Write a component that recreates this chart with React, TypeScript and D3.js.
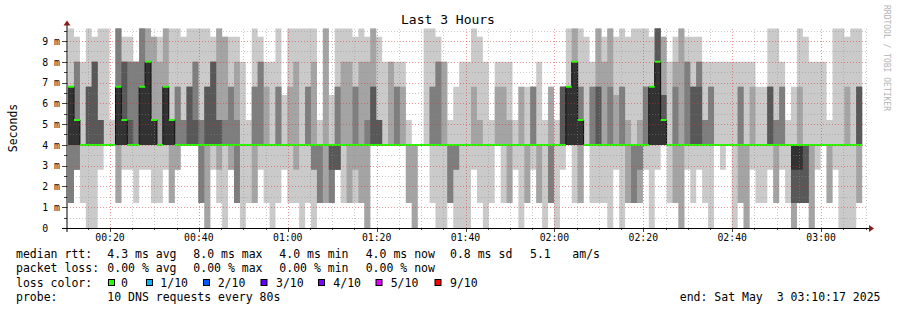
import React from 'react';
import * as d3 from 'd3';

// ---- time frame ----
const END = Date.UTC(2025, 4, 3, 3, 10, 17);
const START = END - 3 * 3600 * 1000;
const STEP = 80 * 1000;
const FIRST_END = START + 17000 + STEP; // end of first 80s probe slot

// ---- sorted ping times (ms) of every 80s probe, 10 pings each ----
const pings: number[][] = [
  [1.2,1.2,1.2,4,4,6.8,6.8,6.8,6.8,9.6],
  [2.8,2.8,2.8,4,4,5.2,5.2,8,8,9.2],
  [1.2,4,4,4,4,4,4,4,4,8],
  [0,4,4,4,4,4,6.8,6.8,6.8,9.6],
  [0,4,4,4,4,4,8,8,8,9.2],
  [2.8,4,4,4,4,4,5.2,5.2,5.2,9.6],
  [4,4,4,4,4,4,4,4,4,9.6],
  [4,4,4,4,4,4,4,4,4,5.2],
  [1.2,1.2,4,4,4,6.8,6.8,9.6,9.6,9.6],
  [2.8,4,4,4,4,5.2,8,8,8,9.2],
  [2.8,4,4,4,4,4,5.2,8,8,9.2],
  [1.2,4,4,4,4,4,4,8,8,8],
  [2.8,4,4,4,4,6.8,6.8,9.6,9.6,9.6],
  [2.8,4,4,4,4,8,8,8,9.6,9.6],
  [1.2,4,4,4,4,5.2,5.2,5.2,9.2,9.2],
  [1.2,4,4,4,4,4,4,4,8,9.2],
  [2.8,4,4,4,4,6.8,6.8,6.8,9.6,9.6],
  [1.2,1.2,4,4,4,5.2,5.2,5.2,5.2,9.6],
  [2.8,2.8,4,4,4,4,4,6.8,6.8,9.6],
  [4,4,4,4,4,4,4,5.2,5.2,9.2],
  [4,4,4,4,4,4,6.8,6.8,6.8,9.6],
  [4,4,4,4,4,4,5.2,8,8,9.6],
  [1.2,1.2,1.2,4,4,4,4,5.2,5.2,9.6],
  [0,0,4,4,4,4,6.8,6.8,6.8,9.6],
  [2.8,4,4,4,4,4,8,8,8,9.2],
  [1.2,2.8,4,4,4,4,5.2,5.2,9.6,9.6],
  [0,4,4,4,4,4,4,5.2,9.2,9.2],
  [2.8,2.8,4,4,4,4,4,6.8,6.8,9.2],
  [1.2,1.2,1.2,4,4,4,4,5.2,8,9.2],
  [0,4,4,4,4,4,4,4,4,8],
  [1.2,4,4,4,4,4,4,4,4,5.2],
  [1.2,1.2,4,4,4,4,4,6.8,6.8,9.6],
  [2.8,4,4,4,4,4,4,8,8,9.2],
  [1.2,4,4,4,4,4,4,4,6.8,8],
  [0,4,4,4,4,4,4,4,4,8],
  [1.2,4,4,4,4,4,4,6.8,6.8,9.6],
  [2.8,4,4,4,4,4,4,4,4,6.4],
  [1.2,4,4,4,4,4,4,4,6.8,9.6],
  [1.2,2.8,4,4,4,4,4,4,8,9.6],
  [0,4,4,4,4,4,4,4,4,9.6],
  [1.2,4,4,4,4,4,4,6.8,6.8,9.6],
  [0,2.8,2.8,4,4,4,4,4,8,9.6],
  [1.2,1.2,1.2,4,4,4,4,4,4,5.2],
  [1.2,1.2,4,4,4,4,4,4,9.6,9.6],
  [1.2,1.2,1.2,2.8,4,4,4,4,4,6.4],
  [2.8,2.8,2.8,2.8,4,4,4,6.8,6.8,9.6],
  [1.2,4,4,4,4,4,4,4,8,9.6],
  [1.2,1.2,4,4,4,4,4,4,8,9.6],
  [1.2,2.8,4,4,4,4,4,6.8,6.8,9.2],
  [1.2,1.2,4,4,4,4,4,4,8,9.6],
  [0,0,4,4,4,4,4,5.2,8,9.2],
  [4,4,4,4,4,4,6.8,6.8,9.6,9.6],
  [4,4,4,4,4,4,5.2,5.2,5.2,9.2],
  [4,4,4,4,4,4,4,4,4,8],
  [4,4,4,4,4,4,4,4,8,8],
  [4,4,4,4,4,4,4,6.8,6.8,8],
  [4,4,4,4,4,4,4,4,6.8,8],
  [1.2,1.2,4,4,4,4,4,4,4,5.2],
  [0,0,4,4,4,4,4,4,4,4],
  [4,4,4,4,4,4,4,4,4,4],
  [4,4,4,4,4,4,4,4,4,9.6],
  [1.2,4,4,4,4,4,4,6.8,6.8,9.6],
  [0,4,4,4,4,4,4,8,8,9.2],
  [0,4,4,4,4,4,4,4,8,8],
  [1.2,1.2,1.2,4,4,4,4,4,4,5.2],
  [0,2.8,2.8,4,4,4,4,4,4,6.8],
  [0,4,4,4,4,4,4,4,4,8],
  [0,4,4,4,4,4,4,4,4,8],
  [2.8,4,4,4,4,4,4,4,6.8,9.6],
  [1.2,4,4,4,4,4,4,4,5.2,9.2],
  [0,4,4,4,4,4,4,4,4,8],
  [1.2,4,4,4,4,4,4,4,4,5.2],
  [4,4,4,4,4,4,4,4,6.8,8],
  [1.2,4,4,4,4,4,4,4,6.8,8],
  [1.2,1.2,4,4,4,4,4,4,5.2,8],
  [2.8,4,4,4,4,4,4,4,4,5.2],
  [0,4,4,4,4,4,4,4,6.8,6.8],
  [1.2,1.2,4,4,4,4,4,4,4,6.8],
  [2.8,4,4,4,4,4,4,6.8,6.8,6.8],
  [1.2,1.2,4,4,4,4,4,4,4,8],
  [0,4,4,4,4,4,4,4,4,5.2],
  [1.2,1.2,1.2,4,4,4,4,4,6.8,6.8],
  [0,4,4,4,4,4,4,4,4,5.2],
  [2.8,4,4,4,4,4,6.8,6.8,6.8,6.8],
  [4,4,4,4,4,6.8,6.8,6.8,6.8,9.6],
  [1.2,4,4,4,4,8,8,8,9.6,9.6],
  [1.2,1.2,4,4,4,5.2,5.2,6.8,6.8,9.6],
  [4,4,4,4,4,4,4,4,4,9.2],
  [1.2,4,4,4,4,4,4,6.8,6.8,8],
  [1.2,4,4,4,4,4,6.8,6.8,9.6,9.6],
  [1.2,4,4,4,4,4,4,4,8,9.2],
  [0,4,4,4,4,4,4,6.8,9.6,9.6],
  [2.8,4,4,4,4,4,4,4,6.4,9.2],
  [0,4,4,4,4,4,4,6.8,6.8,9.6],
  [1.2,1.2,4,4,4,4,4,4,5.2,9.2],
  [1.2,1.2,1.2,4,4,4,4,4,4,9.6],
  [1.2,1.2,2.8,4,4,4,4,4,5.2,9.6],
  [2.8,4,4,4,4,4,4,6.8,6.8,9.6],
  [0,4,4,4,4,6.8,6.8,6.8,6.8,9.2],
  [2.8,4,4,4,4,8,9.6,9.6,9.6,9.6],
  [4,4,4,4,4,5.2,6.4,6.4,9.2,9.2],
  [1.2,4,4,4,4,4,4,4,4,8],
  [1.2,1.2,4,4,4,4,4,6.8,8,9.2],
  [0,0,4,4,4,4,4,4,9.6,9.6],
  [2.8,4,4,4,4,4,4,8,8,9.2],
  [1.2,4,4,4,4,4,6.8,6.8,6.8,9.2],
  [2.8,4,4,4,4,4,6.8,8,8,9.2],
  [1.2,4,4,4,4,4,4,5.2,5.2,8],
  [0,4,4,4,4,4,4,6.8,6.8,8],
  [4,4,4,4,4,4,4,4,4,8],
  [2.8,4,4,4,4,4,4,4,4,8],
  [4,4,4,4,4,4,4,4,4,8],
  [0,4,4,4,4,4,4,4,4,8],
  [1.2,1.2,4,4,4,4,4,6.8,6.8,8],
  [0,0,4,4,4,4,4,4,4,8],
  [2.8,4,4,4,4,4,4,4,6.8,8],
  [1.2,4,4,4,4,4,4,4,4,6.8],
  [1.2,4,4,4,4,4,4,4,4,6.8],
  [2.8,4,4,4,4,4,6.8,6.8,6.8,9.6],
  [1.2,1.2,4,4,4,4,4,5.2,5.2,9.6],
  [2.8,4,4,4,4,4,4,6.8,6.8,8],
  [1.2,4,4,4,4,4,4,4,4,5.2],
  [0,0,1.2,1.2,2.8,4,4,4,4,6.8],
  [1.2,1.2,1.2,1.2,2.8,4,4,4,6.8,9.6],
  [1.2,1.2,1.2,1.2,4,4,4,4,4,9.2],
  [0,0,4,4,4,4,4,4,4,8],
  [2.8,4,4,4,4,4,4,4,4,8],
  [4,4,4,4,4,4,4,4,4,8],
  [1.2,1.2,4,4,4,4,4,4,4,5.2],
  [2.8,4,4,4,4,4,4,4,4,9.6],
  [0,4,4,4,4,4,4,4,4,9.6],
  [0,4,4,4,4,4,4,4,6.8,9.2],
  [0,4,4,4,4,4,4,4,4,9.6],
  [1.2,1.2,4,4,4,4,6.8,6.8,6.8,9.6],
];
const median: number[] = pings.map((p) => p[5]);

// ---- axis / legend text ----
const yTickValues = [0, 1, 2, 3, 4, 5, 6, 7, 8, 9];
const yTickLabels = ['0', '1 m', '2 m', '3 m', '4 m', '5 m', '6 m', '7 m', '8 m', '9 m'];
const smokeColors = ['#cacaca', '#a4a4a4', '#7e7e7e', '#585858', '#323232'];
const lossLabels = ['0', '1/10', '2/10', '3/10', '4/10', '5/10', '9/10'];
const lossColors = ['#26ff00', '#00b8ff', '#0059ff', '#5e00ff', '#7e00ff', '#dd00ff', '#ff0000'];
const lossBoxX = [108.5, 146.5, 203.5, 261, 318.5, 376, 435];
const lossTextX = [121, 160.3, 217.7, 276, 333.3, 390.7, 450];
const rttItems = ['4.3 ms avg', '8.0 ms max', '4.0 ms min', '4.0 ms now', '0.8 ms sd', '5.1', 'am/s'];
const rttX = [107.3, 193.3, 279.3, 365.7, 450, 530, 572.3];
const lossItems = ['0.00 % avg', '0.00 % max', '0.00 % min', '0.00 % now'];
const lossItemX = [107.3, 193.3, 279.3, 365.7];

const MONO = '"DejaVu Sans Mono", "Liberation Mono", monospace';

export default function App() {
  const W = 897;
  const H = 310;
  const x0 = 66.8;
  const x1 = 866.8;
  const x = d3.scaleUtc().domain([START, END]).range([x0, x1]);
  const y = d3.scaleLinear().domain([0, 9.6]).range([228, 28.5]);

  const cols = pings.map((p, i) => {
    const tEnd = FIRST_END + i * STEP;
    const tStart = Math.max(START, tEnd - STEP);
    return { l: x(tStart), r: x(tEnd), p, m: median[i] };
  });

  const bandPaths = smokeColors.map((c, b) => {
    const pts: { x: number; lo: number; hi: number }[] = [];
    cols.forEach((col) => {
      const lo = col.p[b];
      const hi = col.p[9 - b];
      pts.push({ x: col.l, lo, hi });
      pts.push({ x: col.r, lo, hi });
    });
    const a = d3
      .area<{ x: number; lo: number; hi: number }>()
      .x((d) => d.x)
      .y0((d) => y(d.lo))
      .y1((d) => y(d.hi));
    return { c, d: a(pts) || '' };
  });

  const medPts: { x: number; m: number }[] = [];
  cols.forEach((col) => {
    medPts.push({ x: col.l, m: col.m });
    medPts.push({ x: col.r, m: col.m });
  });
  const medArea = d3
    .area<{ x: number; m: number }>()
    .x((d) => d.x)
    .y0((d) => y(d.m) + 1)
    .y1((d) => y(d.m) - 1)(medPts) || '';

  const medJumps: { x: number; a: number; b: number }[] = [];
  for (let i = 1; i < cols.length; i++) {
    if (cols[i].m !== cols[i - 1].m) medJumps.push({ x: cols[i].l, a: cols[i - 1].m, b: cols[i].m });
  }

  // grid
  const minorY = d3.range(0.5, 9.6, 0.5).filter((v) => Math.abs(v - Math.round(v)) > 0.01);
  const majorY = d3.range(1, 10, 1);
  const minorX = x.ticks(d3.utcMinute.every(5) as any).map((d) => d.getTime()).filter((t) => new Date(t).getUTCMinutes() % 20 !== 0);
  const majorX = x.ticks(d3.utcMinute.every(20) as any);
  const fmt = d3.utcFormat('%H:%M');

  return (
    <div style={{ position: 'absolute', left: 0, top: 0 }}>
      <svg width={W} height={H} xmlns="http://www.w3.org/2000/svg" style={{ display: 'block', background: '#ffffff' }}>
        <rect x={0} y={0} width={W} height={H} fill="#ffffff" />
        {/* smoke */}
        {bandPaths.map((b, i) => (
          <path key={i} d={b.d} fill={b.c} stroke="none" />
        ))}
        {/* median */}
        {medJumps.map((j, i) => (
          <line key={i} x1={j.x} x2={j.x} y1={y(j.a)} y2={y(j.b)} stroke="#111" strokeWidth={1} />
        ))}
        <path d={medArea} fill={lossColors[0]} />

        {/* grid */}
        <g strokeWidth={1} shapeRendering="crispEdges">
          {minorY.map((v) => (
            <line key={'my' + v} x1={x0} x2={x1} y1={Math.round(y(v)) + 0.5} y2={Math.round(y(v)) + 0.5} stroke="rgba(140,140,140,0.45)" strokeDasharray="1,2" />
          ))}
          {minorX.map((t) => (
            <line key={'mx' + t} x1={Math.round(x(t)) + 0.5} x2={Math.round(x(t)) + 0.5} y1={228} y2={28} stroke="rgba(140,140,140,0.45)" strokeDasharray="1,2" />
          ))}
          {majorY.map((v) => (
            <line key={'My' + v} x1={x0} x2={x1} y1={Math.round(y(v)) + 0.5} y2={Math.round(y(v)) + 0.5} stroke="rgba(210,50,50,0.5)" strokeDasharray="1,2" />
          ))}
          {majorX.map((t) => (
            <line key={'Mx' + t.getTime()} x1={Math.round(x(t)) + 0.5} x2={Math.round(x(t)) + 0.5} y1={228} y2={28} stroke="rgba(210,50,50,0.5)" strokeDasharray="1,2" />
          ))}
        </g>

        {/* ticks */}
        <g stroke="#444" strokeWidth={1} shapeRendering="crispEdges">
          {yTickValues.map((v) => (
            <line key={'yt' + v} x1={62} x2={67} y1={Math.round(y(v)) + 0.5} y2={Math.round(y(v)) + 0.5} />
          ))}
          {minorY.map((v) => (
            <line key={'ymt' + v} x1={64} x2={67} y1={Math.round(y(v)) + 0.5} y2={Math.round(y(v)) + 0.5} />
          ))}
          {majorX.map((t) => (
            <line key={'xt' + t.getTime()} x1={Math.round(x(t)) + 0.5} x2={Math.round(x(t)) + 0.5} y1={228} y2={232} />
          ))}
          {minorX.map((t) => (
            <line key={'xmt' + t} x1={Math.round(x(t)) + 0.5} x2={Math.round(x(t)) + 0.5} y1={228} y2={230} />
          ))}
        </g>

        {/* axes */}
        <line x1={62} x2={870} y1={228.5} y2={228.5} stroke="#000" strokeWidth={1} />
        <line x1={67} x2={67} y1={232} y2={24} stroke="#000" strokeWidth={1} />
        <polygon points="869,225 869,232 874,228.5" fill="#8b1c1c" />
        <polygon points="63.5,25.5 70.5,25.5 67,20.5" fill="#8b1c1c" />

        {/* axis labels */}
        <g fontFamily={MONO} fontSize={9.8} fill="#000">
          {yTickValues.map((v, i) => (
            <text key={'yl' + v} x={42.3} y={y(v) + 3.8}>
              {yTickLabels[i]}
            </text>
          ))}
          {majorX.map((t) => (
            <text key={'xl' + t.getTime()} x={x(t)} y={241} textAnchor="middle">
              {fmt(t)}
            </text>
          ))}
        </g>

        {/* title */}
        <text x={448} y={24.3} textAnchor="middle" fontFamily={MONO} fontSize={13} fill="#000">
          Last 3 Hours
        </text>
        {/* unit */}
        <text transform="translate(16.5,128) rotate(-90)" textAnchor="middle" fontFamily={MONO} fontSize={11.5} fill="#000">
          Seconds
        </text>
        {/* watermark */}
        <text transform="translate(884,5) rotate(90)" fontFamily={MONO} fontSize={8} fill="#b4b4b4">
          RRDTOOL / TOBI OETIKER
        </text>

        {/* legend */}
        <g fontFamily={MONO} fontSize={11.5} fill="#000">
          <text x={16} y={257.5}>median rtt:</text>
          {rttItems.map((s, i) => (
            <text key={'r' + i} x={rttX[i]} y={257.5} style={{ whiteSpace: 'pre' }}>
              {s}
            </text>
          ))}
          <text x={16} y={272}>packet loss:</text>
          {lossItems.map((s, i) => (
            <text key={'l' + i} x={lossItemX[i]} y={272}>
              {s}
            </text>
          ))}
          <text x={16} y={286.5}>loss color:</text>
          {lossLabels.map((s, i) => (
            <g key={'lc' + i}>
              <rect x={lossBoxX[i]} y={279.5} width={6} height={6} fill={lossColors[i]} stroke="#000" strokeWidth={1} />
              <text x={lossTextX[i]} y={286.5}>
                {s}
              </text>
            </g>
          ))}
          <text x={16} y={301}>probe:</text>
          <text x={107.3} y={301}>10 DNS requests every 80s</text>
          <text x={880.5} y={301} textAnchor="end" style={{ whiteSpace: 'pre' }}>
            {'end: Sat May  3 03:10:17 2025'}
          </text>
        </g>
      </svg>
    </div>
  );
}
